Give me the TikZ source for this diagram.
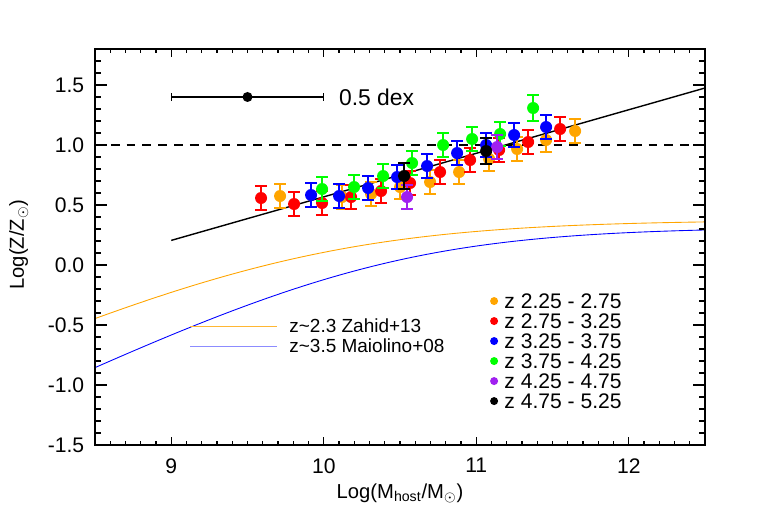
\documentclass[tikz,border=0pt]{standalone}
\usepackage{fontspec}
\setmainfont{Liberation Sans}
\definecolor{corange}{RGB}{255,165,0}
\definecolor{cred}{RGB}{255,0,0}
\definecolor{cblue}{RGB}{0,0,255}
\definecolor{cgreen}{RGB}{0,255,0}
\definecolor{cpurple}{RGB}{160,32,240}
\newcommand\datapt[4]{\draw[#3,line width=0.9pt] (#1,#2-#4) -- (#1,#2+#4) (#1-6,#2-#4) -- (#1+6,#2-#4) (#1-6,#2+#4) -- (#1+6,#2+#4); \fill[#3] (#1,#2) circle[radius=6];}
\begin{document}
\begin{tikzpicture}[font=\fontsize{11.5}{13}\selectfont]
\path[use as bounding box,fill=white] (0,0) rectangle (15.22,10.14);
\begin{scope}[x=3.05cm,y=2.4cm,shift={(-24.025cm,4.84cm)}]
 \draw[corange,line width=0.5pt] plot[domain=8.5:12.5,samples=80] (\x,{0.375-log10(1+10^(-0.544*(\x-9.88)))});
 \draw[cblue,line width=0.5pt] plot[domain=8.5:12.5,samples=80] (\x,{0.315-log10(1+10^(-0.6*(\x-10.4)))});
 \draw[dashed,dash pattern=on 5pt off 4pt,line width=0.8pt] (8.5,1) -- (12.5,1);
 \draw[line width=0.8pt] (9,0.205) -- (12.5,1.475);
 % scale bar
 \draw[line width=0.8pt] (9,1.4) -- (10,1.4) (9,1.37)--(9,1.43) (10,1.37)--(10,1.43);
 \fill (9.5,1.4) circle[radius=0.1cm];
 \node[anchor=west,font=\fontsize{13}{15}\selectfont] at (10.06,1.4) {0.5 dex};
 % axes
 \draw[line width=0.8pt] (8.5,-1.5) rectangle (12.5,1.8);
 \foreach \i in {86,...,124}{
  \draw[line width=0.6pt] (\i/10,-1.5) -- ++(0,0.08cm);
  \draw[line width=0.6pt] (\i/10,1.8) -- ++(0,-0.08cm);}
 \foreach \m in {9,10,11,12}{
  \draw[line width=0.6pt] (\m,-1.5) -- ++(0,0.16cm);
  \draw[line width=0.6pt] (\m,1.8) -- ++(0,-0.16cm);
  \node[anchor=north,font=\fontsize{12}{14}\selectfont] at (\m,-1.56) {\m};}
 \foreach \i in {-14,...,17}{
  \draw[line width=0.6pt] (8.5,\i/10) -- ++(0.12cm,0);
  \draw[line width=0.6pt] (12.5,\i/10) -- ++(-0.12cm,0);}
 \foreach \v/\t in {-1.5/-1.5,-1.0/-1.0,-0.5/-0.5,0.0/0.0,0.5/0.5,1.0/1.0,1.5/1.5}{
  \draw[line width=0.6pt] (8.5,\v) -- ++(0.24cm,0);
  \draw[line width=0.6pt] (12.5,\v) -- ++(-0.24cm,0);
  \node[anchor=east,font=\fontsize{12}{14}\selectfont] at (8.47,\v) {\t};}
 \node[rotate=90] at (8.0,0.17) {Log(Z/Z$_\odot$)};
 \node at (10.5,-1.9) {Log(M\textsubscript{host}/M$_\odot$)};
\end{scope}
\begin{scope}[x=0.02cm,y=-0.02cm,yshift=10.14cm]
 \foreach \x/\y in {280/196,342/197,371/194,400/187,430/182,459/172,489/159,517/149,546/140,575/131}{\datapt{\x}{\y}{corange}{12}}
 \foreach \x/\y in {261/198,294/204,322/203,351/197,381/191,410/183,440/172,470/160,499/150,528/142,560/129}{\datapt{\x}{\y}{cred}{12}}
 \foreach \x/\y in {311/195,339/196,368/188,397/177,427/166,457/153,486/145,514/135,546/127}{\datapt{\x}{\y}{cblue}{12}}
 \foreach \x/\y/\e in {322/189/12,354/187/12,383/176/12,412/163/12,443/145/12,472/139/12,500/134/12,533/108/13}{\datapt{\x}{\y}{cgreen}{\e}}
 \foreach \x/\y in {407/197,497/147}{\datapt{\x}{\y}{cpurple}{12}}
 \foreach \x/\y in {404/176,486/151}{\datapt{\x}{\y}{black}{13}}
 % legends
 \draw[corange!80,line width=0.5pt] (190,326) -- (277,326);
 \draw[cblue!45,line width=0.5pt] (190,346) -- (277,346);
 \node[anchor=west,font=\fontsize{10.8}{12}\selectfont,inner sep=0] at (289,326) {z\textasciitilde2.3 Zahid+13};
 \node[anchor=west,font=\fontsize{10.8}{12}\selectfont,inner sep=0] at (289,346) {z\textasciitilde3.5 Maiolino+08};
 \foreach \c/\t [count=\k from 0] in {corange/2.25 - 2.75,cred/2.75 - 3.25,cblue/3.25 - 3.75,cgreen/3.75 - 4.25,cpurple/4.25 - 4.75,black/4.75 - 5.25}{
  \fill[\c] (494,301+20*\k) circle[radius=4];
  \node[anchor=west,font=\fontsize{12}{14}\selectfont,inner sep=0] at (504,301+20*\k) {z \t};}
\end{scope}
\end{tikzpicture}
\end{document}
